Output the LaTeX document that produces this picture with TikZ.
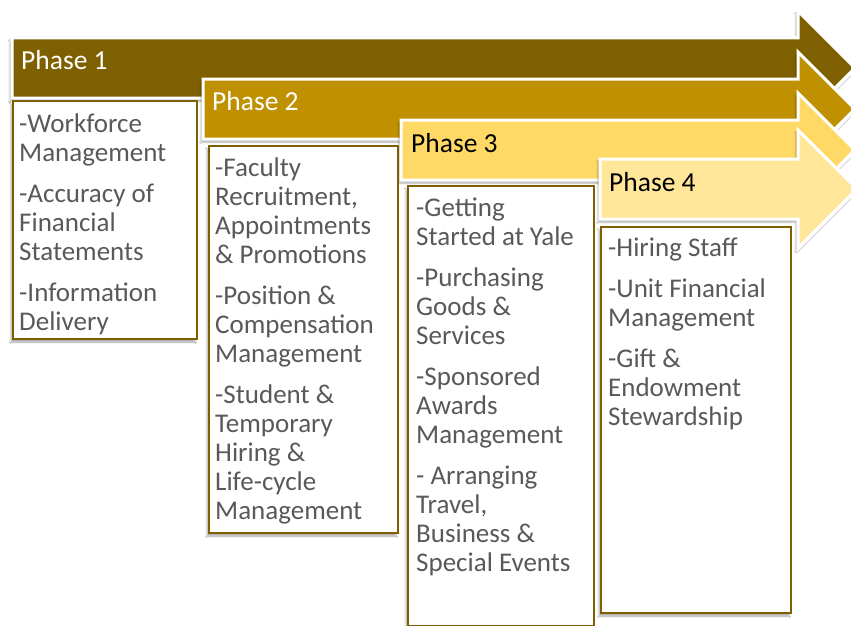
\documentclass[tikz,border=0pt]{standalone}
\usepackage{fontspec}
\setmainfont{Carlito}
\usetikzlibrary{positioning,shadows.blur}
\definecolor{phaseone}{RGB}{127,96,0}
\definecolor{phasetwo}{RGB}{191,144,0}
\definecolor{phasethree}{RGB}{255,217,102}
\definecolor{phasefour}{RGB}{255,230,153}
\definecolor{itemgray}{RGB}{89,89,89}
\tikzset{
    band/.style={draw=white, line width=3pt, line join=miter,
        blur shadow={shadow xshift=-2pt, shadow yshift=-3pt, shadow blur steps=6, shadow opacity=35}},
    box/.style={draw=phaseone, line width=2pt, fill=white, inner sep=0pt,
        blur shadow={shadow xshift=-2pt, shadow yshift=-3pt, shadow blur steps=6, shadow opacity=35}},
    phase/.style={inner sep=0pt, font=\fontsize{27.5pt}{29pt}\selectfont},
    item/.style={inner sep=0pt, align=left, text=itemgray, font=\fontsize{27pt}{29pt}\selectfont}
}

\begin{document}
\begin{tikzpicture}[x=1pt, y=-1pt]
    \useasboundingbox [fill=white] (0,0) rectangle (851,626);

    \draw [band, fill=phaseone] (12,38) -- (798,38) -- (798,11) -- (855,68) -- (798,125) -- (798,98) -- (12,98) -- cycle;
    \node (L1) [phase, text=white, anchor=west] at (21,60) {Phase 1};

    \draw [band, fill=phasetwo] (203,79) -- (798,79) -- (798,52) -- (855,109) -- (798,166) -- (798,139) -- (203,139) -- cycle;
    \node (L2) [phase, text=white, anchor=west] at (212,101) {Phase 2};

    \draw [band, fill=phasethree] (401,120) -- (798,120) -- (798,93) -- (855,150) -- (798,207) -- (798,180) -- (401,180) -- cycle;
    \node (L3) [phase, text=black, anchor=west] at (411,143) {Phase 3};

    \draw [band, fill=phasefour] (600,159) -- (798,159) -- (798,130) -- (857,189) -- (798,248) -- (798,219) -- (600,219) -- cycle;
    \node (L4) [phase, text=black, anchor=west] at (609,182) {Phase 4};

    \node (B1) [box, minimum width=184pt, minimum height=238pt, anchor=north west] at (12,100) {};
    \node (T1) [item, anchor=north west] at ([shift={(7,14)}]B1.north west)
        {-Workforce\\Management\\[12pt]-Accuracy of\\Financial\\Statements\\[12pt]-Information\\Delivery};

    \node (B2) [box, minimum width=189pt, minimum height=387pt, anchor=north west] at (208,145) {};
    \node (T2) [item, anchor=north west] at ([shift={(7,13)}]B2.north west)
        {-Faculty\\Recruitment,\\Appointments\\\& Promotions\\[12pt]-Position \&\\Compensation\\Management\\[12pt]-Student \&\\Temporary\\Hiring \&\\Life-cycle\\Management};

    \node (B3) [box, minimum width=186pt, minimum height=440pt, anchor=north west] at (407,185) {};
    \node (T3) [item, anchor=north west] at ([shift={(9,13)}]B3.north west)
        {-Getting\\Started at Yale\\[12pt]-Purchasing\\Goods \&\\Services\\[12pt]-Sponsored\\Awards\\Management\\[12pt]- Arranging\\Travel,\\Business \&\\Special Events};

    \node (B4) [box, minimum width=190pt, minimum height=386pt, anchor=north west] at (600,226) {};
    \node (T4) [item, anchor=north west] at ([shift={(8,12)}]B4.north west)
        {-Hiring Staff\\[12pt]-Unit Financial\\Management\\[12pt]-Gift \&\\Endowment\\Stewardship};
\end{tikzpicture}
\end{document}
